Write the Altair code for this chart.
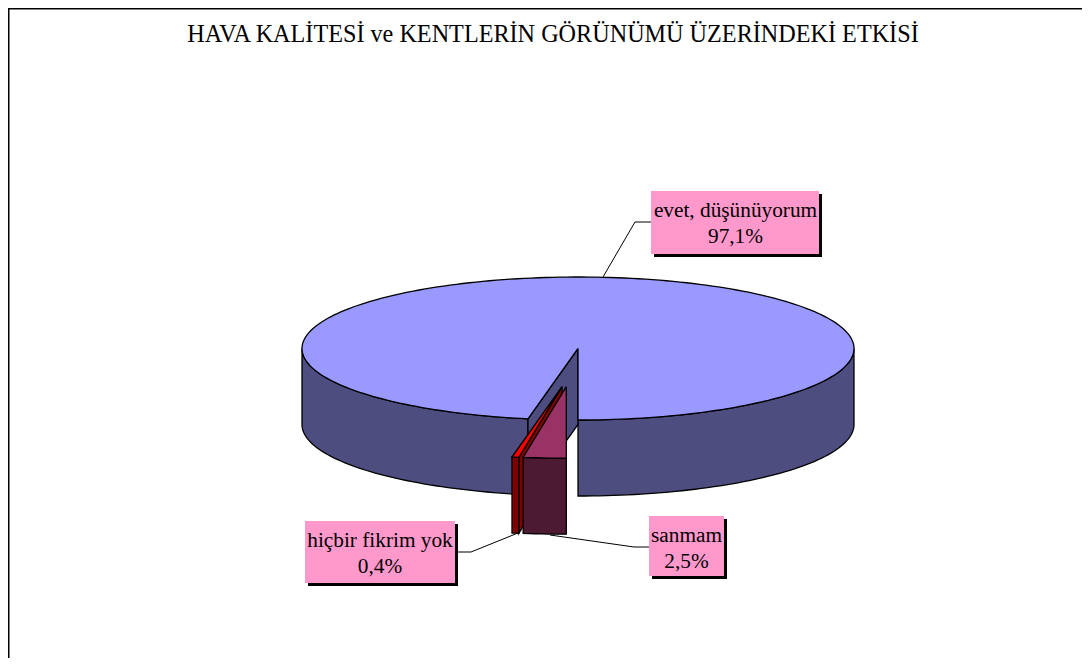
import math
import altair as alt
import pandas as pd

# --- data ---
categories = ["evet, düşünüyorum", "sanmam", "hiçbir fikrim yok"]
shares = [97.1, 2.5, 0.4]
share_labels = ["97,1%", "2,5%", "0,4%"]
title_text = "HAVA KALİTESİ ve KENTLERİN GÖRÜNÜMÜ ÜZERİNDEKİ ETKİSİ"

FONT = "Liberation Serif"
W, H = 1074, 650
X0, Y0 = 8, 8
xs = alt.Scale(domain=[X0, X0 + W], range=[0, W], nice=False, zero=False)
ys = alt.Scale(domain=[Y0, Y0 + H], range=[0, H], nice=False, zero=False)

RX, RY, DEPTH = 276.0, 71.5, 76.0
CX, CY = 578.0, 348.5
a_big = shares[0] * 3.6
a_mid = shares[1] * 3.6
a_low = shares[2] * 3.6
GAP = a_mid + a_low

def pt(deg, c=(CX, CY), dy=0.0):
    """deg = angle measured clockwise from the 6 o'clock direction."""
    r = math.radians(deg)
    return (c[0] - RX * math.sin(r), c[1] + RY * math.cos(r) + dy)

def arc(a0, a1, c=(CX, CY), dy=0.0, n=None):
    n = n or max(2, int(abs(a1 - a0) / 1.5) + 2)
    return [pt(a0 + (a1 - a0) * i / (n - 1), c, dy) for i in range(n)]

def poly(points, fill, width=1.3):
    closed = list(points) + [points[0]]
    df = pd.DataFrame({"x": [p[0] for p in closed], "y": [p[1] for p in closed],
                       "i": range(len(closed))})
    return (alt.Chart(df).mark_line(fill=fill, stroke="#000000", strokeWidth=width,
                                    strokeJoin="miter")
            .encode(x=alt.X("x:Q", scale=xs, axis=None),
                    y=alt.Y("y:Q", scale=ys, axis=None),
                    order="i:Q"))

def seg(points, color="#000000", width=1.0):
    df = pd.DataFrame({"x": [p[0] for p in points], "y": [p[1] for p in points],
                       "i": range(len(points))})
    return (alt.Chart(df).mark_line(stroke=color, strokeWidth=width)
            .encode(x=alt.X("x:Q", scale=xs, axis=None),
                    y=alt.Y("y:Q", scale=ys, axis=None),
                    order="i:Q"))

def rect(x0, y0, x1, y1, fill):
    df = pd.DataFrame({"x": [x0], "x2": [x1], "y": [y0], "y2": [y1]})
    return (alt.Chart(df).mark_rect(fill=fill)
            .encode(x=alt.X("x:Q", scale=xs, axis=None), x2="x2:Q",
                    y=alt.Y("y:Q", scale=ys, axis=None), y2="y2:Q"))

def text(x, y, s, size=21.3):
    df = pd.DataFrame({"x": [x], "y": [y], "t": [s]})
    return (alt.Chart(df).mark_text(font=FONT, fontSize=size, color="#000000",
                                    align="center", baseline="middle")
            .encode(x=alt.X("x:Q", scale=xs, axis=None),
                    y=alt.Y("y:Q", scale=ys, axis=None), text="t:N"))

BLUE_TOP, BLUE_SIDE = "#9999ff", "#4d4d80"
PLUM_TOP, PLUM_SIDE = "#993366", "#4d1a33"
RED_TOP, RED_SIDE = "#ff0000", "#800000"

layers = []

# frame
layers.append(seg([(8.75, Y0 + H), (8.75, 8.75), (X0 + W, 8.75)], width=1.5))

# big slice: outer wall, inner wall, top
right_side = arc(0, -90)
layers.append(poly(right_side + arc(-90, 0, dy=DEPTH), BLUE_SIDE))
left_side = arc(GAP, 90)
layers.append(poly(left_side + arc(90, GAP, dy=DEPTH), BLUE_SIDE))
layers.append(poly([(CX, CY), pt(GAP), pt(GAP, dy=DEPTH), (CX, CY + DEPTH)], BLUE_SIDE))
layers.append(poly([(CX, CY)] + arc(GAP, 360), BLUE_TOP))

# exploded small slices
red_c = (562.0, 386.7)
plum_c = (566.3, 386.7)
red_a, red_b = a_mid, GAP
layers.append(poly([red_c, pt(red_a, red_c), pt(red_a, red_c, DEPTH),
                    (red_c[0], red_c[1] + DEPTH)], RED_SIDE))
layers.append(poly(arc(red_a, red_b, red_c, 0, 3) + arc(red_b, red_a, red_c, DEPTH, 3), RED_SIDE))
layers.append(poly([red_c] + arc(red_a, red_b, red_c, 0, 3), RED_TOP))
layers.append(poly(arc(0, a_mid, plum_c, 0, 8) + arc(a_mid, 0, plum_c, DEPTH, 8), PLUM_SIDE))
layers.append(poly([plum_c] + arc(0, a_mid, plum_c, 0, 8), PLUM_TOP))

# leader lines
layers.append(seg([(603, 277), (635, 222), (651, 222)]))
layers.append(seg([(518, 533), (471, 552), (458, 552)]))
layers.append(seg([(550, 535), (634, 547), (649, 547)]))

# label boxes
layers += [rect(654, 194, 822, 257, "#000000"), rect(651, 191, 819, 254, "#ff99cc")]
layers += [rect(308, 524, 458, 586, "#000000"), rect(305, 521, 455, 583, "#ff99cc")]
layers += [rect(652, 519, 727, 579, "#000000"), rect(649, 516, 724, 576, "#ff99cc")]

layers.append(text(735.5, 211, categories[0]))
layers.append(text(735.5, 237, share_labels[0]))
layers.append(text(380, 541, categories[2]))
layers.append(text(380, 567, share_labels[2]))
layers.append(text(686.5, 536, categories[1]))
layers.append(text(686.5, 562, share_labels[1]))
layers.append(text(553, 35, title_text, size=24.2))

chart = (alt.layer(*layers)
         .properties(width=W, height=H, padding=0, background="#ffffff",
                     autosize=alt.AutoSizeParams(type="none"))
         .configure_view(stroke=None))

chart.save("out.html", embed_options={"renderer": "svg", "actions": False})
